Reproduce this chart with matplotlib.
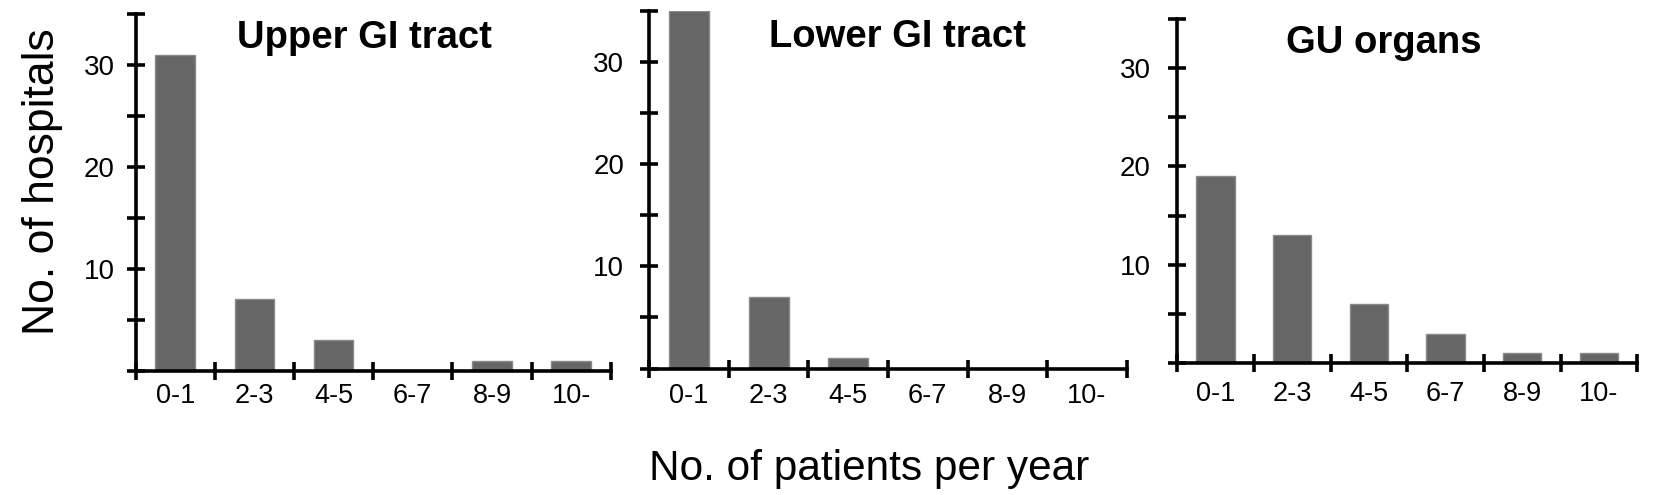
import matplotlib
matplotlib.use("Agg")
import matplotlib.pyplot as plt
import numpy as np

plt.rcParams['font.family'] = ['Liberation Sans', 'DejaVu Sans']

categories = ["0-1", "2-3", "4-5", "6-7", "8-9", "10-"]
upper_gi = [31, 7, 3, 0, 1, 1]
lower_gi = [35, 7, 1, 0, 0, 0]
gu_organs = [19, 13, 6, 3, 1, 1]
titles = ["Upper GI tract", "Lower GI tract", "GU organs"]
series = [upper_gi, lower_gi, gu_organs]

W, H = 1654, 495
fig = plt.figure(figsize=(W / 100, H / 100), dpi=100)

# axes boxes in pixels: left, right, bottom(y from top), top(y from top)
boxes = [(135.7, 610.7, 370.7, 14.0),
         (649.3, 1126.7, 368.5, 10.7),
         (1177.3, 1637.3, 363.0, 19.0)]
title_pos = [(364, 48.3), (897, 46.7), (1384, 53.3)]
ypads = [8.8, 11.5, 12.6]
xpads = [4.5, 6.0, 8.6]

lw = 2.6
for (l, r, b, t), vals, title, (tx, ty), yp, xp in zip(
        boxes, series, titles, title_pos, ypads, xpads):
    ax = fig.add_axes([l / W, 1 - b / H, (r - l) / W, (b - t) / H])
    x = np.arange(len(categories))
    ax.bar(x, vals, width=0.5, color="#666666", edgecolor="#8a8a8a",
           linewidth=1.0, zorder=2)
    ax.set_xlim(-0.5, len(categories) - 0.5)
    ax.set_ylim(0, 35)
    for s in ["top", "right"]:
        ax.spines[s].set_visible(False)
    for s in ["left", "bottom"]:
        ax.spines[s].set_linewidth(lw)
        ax.spines[s].set_zorder(3)
    ax.set_xticks(x)
    ax.set_xticklabels(categories)
    ax.set_xticks(np.arange(-0.5, len(categories), 1), minor=True)
    ax.set_yticks([10, 20, 30])
    ax.set_yticks([0, 5, 15, 25, 35], minor=True)
    ax.tick_params(axis="x", which="major", length=0, pad=xp + 4.7,
                   labelsize=19.5)
    ax.tick_params(axis="x", which="minor", length=13, width=lw,
                   direction="inout")
    ax.tick_params(axis="y", which="both", length=13, width=lw,
                   direction="inout")
    ax.tick_params(axis="y", which="major", pad=yp, labelsize=20)
    fig.text(tx / W, 1 - ty / H, title, ha="center", va="baseline",
             fontsize=27.5, fontweight="bold")

fig.text(869 / W, 1 - 480 / H, "No. of patients per year", ha="center",
         va="baseline", fontsize=30.5)
fig.text(43 / W, 1 - 181.5 / H, "No. of hospitals", ha="center",
         va="center", rotation=90, fontsize=32)

fig.savefig("out.png", dpi=100, facecolor="white")
